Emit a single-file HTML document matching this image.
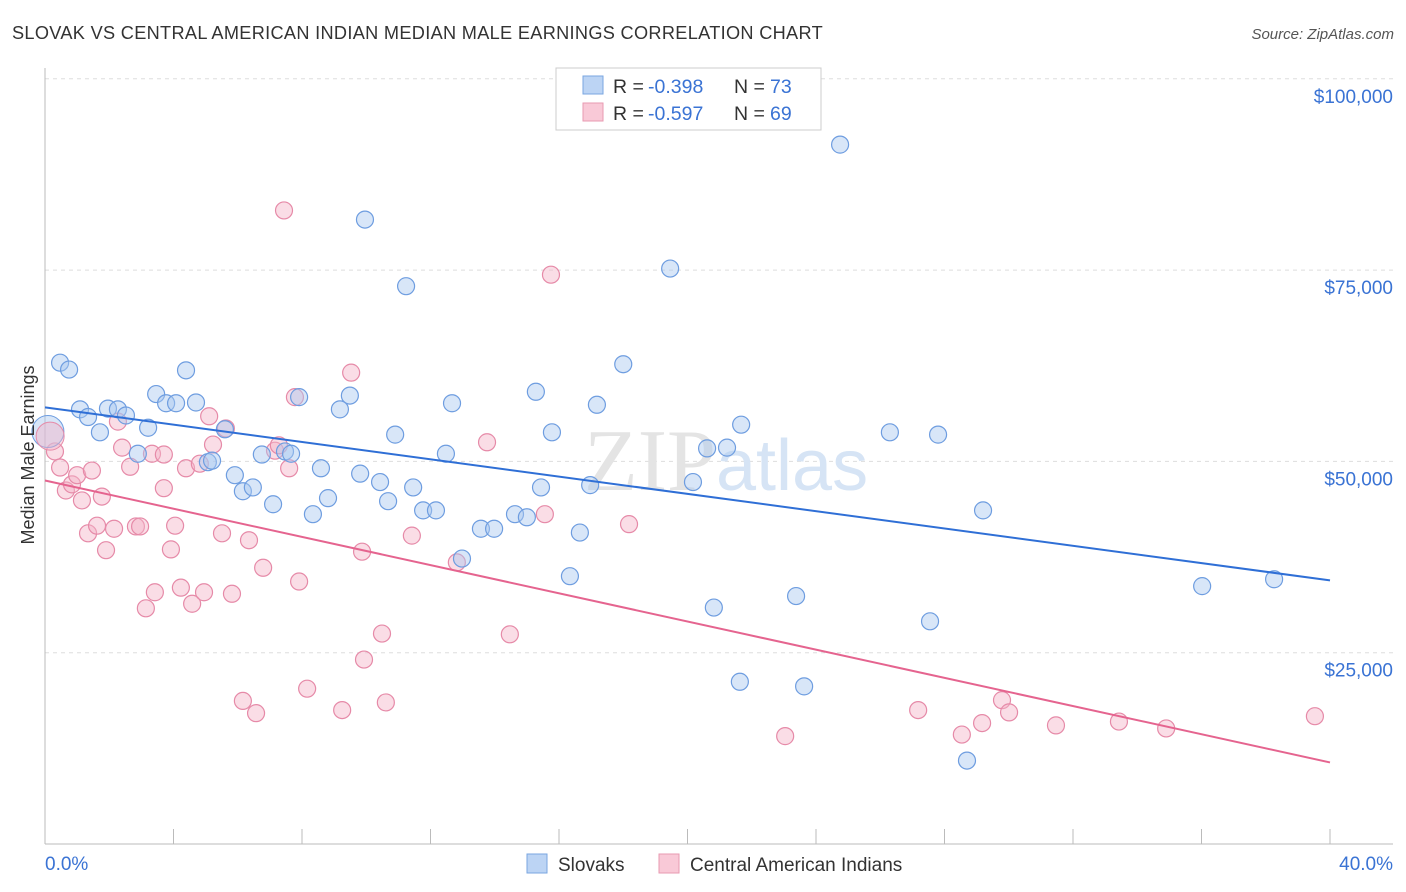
<!DOCTYPE html>
<html><head><meta charset="utf-8"><style>
body{margin:0;background:#fff;width:1406px;height:892px;overflow:hidden;font-family:"Liberation Sans",sans-serif}
svg{position:absolute;left:0;top:0}
</style></head><body>
<svg id="chart" width="1406" height="892">
<text x="12" y="39" font-size="18" letter-spacing="0.3" fill="#333" textLength="811" lengthAdjust="spacingAndGlyphs">SLOVAK VS CENTRAL AMERICAN INDIAN MEDIAN MALE EARNINGS CORRELATION CHART</text>
<text x="1394" y="39" font-size="15" fill="#555" font-style="italic" text-anchor="end">Source: ZipAtlas.com</text>
<g id="grid"></g>
<text x="716" y="490" font-size="88" font-family="Liberation Serif,serif" fill="#e4e4e4" text-anchor="end">ZIP</text>
<text x="716" y="490" font-size="72" fill="#d6e4f5">atlas</text>
<g id="marks"></g>
<text transform="translate(34,455) rotate(-90)" font-size="18" fill="#333" text-anchor="middle">Median Male Earnings</text>
<g>
<rect x="556" y="68" width="265" height="62" fill="#fff" stroke="#ccc"/>
<rect x="583" y="76" width="20" height="18" fill="#bcd4f4" stroke="#7aa6e0"/>
<rect x="583" y="103" width="20" height="18" fill="#f9c9d7" stroke="#e89ab2"/>
<g font-size="19.5" fill="#333">
<text x="613" y="93">R =</text><text x="648" y="93" fill="#3a73d4">-0.398</text><text x="734" y="93">N =</text><text x="770" y="93" fill="#3a73d4">73</text></g>
<g font-size="19.5" fill="#333">
<text x="613" y="120">R =</text><text x="648" y="120" fill="#3a73d4">-0.597</text><text x="734" y="120">N =</text><text x="770" y="120" fill="#3a73d4">69</text></g>
</g>
<g>
<rect x="527" y="854" width="20" height="19" fill="#bcd4f4" stroke="#7aa6e0"/>
<text x="558" y="871" font-size="19" fill="#333">Slovaks</text>
<rect x="659" y="854" width="20" height="19" fill="#f9c9d7" stroke="#e89ab2"/>
<text x="690" y="871" font-size="19" fill="#333">Central American Indians</text>
</g>
</svg>
<script>
const yTicks=[25000,50000,75000,100000];
const yTickLabels=["$25,000","$50,000","$75,000","$100,000"];
const xTicks=[4,8,12,16,20,24,28,32,36,40];
const xEndLabels=["0.0%","40.0%"];
const slovakX=[0.47,0.75,1.09,1.34,1.71,1.96,2.27,2.52,2.89,3.21,3.46,3.77,4.08,4.39,4.70,5.07,5.20,5.60,5.91,6.16,6.47,6.75,7.10,7.47,7.66,7.91,8.34,8.59,8.81,9.18,9.49,9.81,9.96,10.43,10.68,10.90,11.24,11.46,11.77,12.17,12.48,12.67,12.98,13.57,13.98,14.63,15.00,15.28,15.44,15.78,16.34,16.65,16.97,17.18,18.0,19.46,20.17,20.61,20.82,21.23,21.67,21.63,23.38,23.63,24.75,26.30,27.55,27.80,28.70,29.20,36.02,38.26];
const slovakY=[62.9,62.0,56.8,55.8,53.8,56.9,56.8,56.0,51.0,54.4,58.8,57.6,57.6,61.9,57.7,49.9,50.1,54.2,48.2,46.1,46.6,50.9,44.4,51.3,51.0,58.4,43.1,49.1,45.2,56.8,58.6,48.4,81.6,47.3,44.8,53.5,72.9,46.6,43.6,43.6,51.0,57.6,37.3,41.2,41.2,43.1,42.7,59.1,46.6,53.8,35.0,40.7,46.9,57.4,62.7,75.2,47.3,51.7,30.9,51.8,54.8,21.2,32.4,20.6,91.4,53.8,29.1,53.5,10.9,43.6,33.7,34.6];
const caiX=[0.31,0.47,0.65,0.84,1.0,1.15,1.34,1.46,1.62,1.77,1.90,2.15,2.27,2.40,2.65,2.83,2.96,3.14,3.33,3.42,3.70,3.70,3.92,4.05,4.23,4.39,4.58,4.82,4.95,5.11,5.23,5.51,5.63,5.82,6.16,6.35,6.57,6.79,7.16,7.28,7.44,7.60,7.78,7.91,8.16,9.25,9.53,9.87,9.93,10.49,10.61,11.42,12.82,13.76,14.47,15.56,15.75,18.18,23.04,27.18,28.54,29.17,29.79,30.01,31.47,33.43,34.90,39.53];
const caiY=[51.3,49.2,46.2,47.0,48.2,44.9,40.6,48.8,41.6,45.4,38.4,41.2,55.2,51.8,49.3,41.5,41.5,30.8,51.0,32.9,50.9,46.5,38.5,41.6,33.5,49.1,31.4,49.7,32.9,55.9,52.2,40.6,54.3,32.7,18.7,39.7,17.1,36.1,51.4,52.1,82.8,49.1,58.4,34.3,20.3,17.5,61.6,38.2,24.1,27.5,18.5,40.3,36.8,52.5,27.4,43.1,74.4,41.8,14.1,17.5,14.3,15.8,18.8,17.2,15.5,16.0,15.1,16.7];
const bigX=[0.09,0.16];const bigY=[53.9,53.3];
const slovakTrend=[57.06,34.45];const caiTrend=[47.5,10.66];
const NS="http://www.w3.org/2000/svg";
const X=v=>45+v*32.125;
const Y=k=>844-k*7.652;
function mk(t,p,a){const e=document.createElementNS(NS,t);for(const k in a)e.setAttribute(k,a[k]);p.appendChild(e);return e;}
const grid=document.getElementById('grid'),marks=document.getElementById('marks');
yTicks.forEach((v,i)=>{
 const g=mk('line',grid,{x1:45,x2:1393,y1:Y(v/1000),y2:Y(v/1000),stroke:'#ddd','stroke-dasharray':'4,4'});
 
 
 const t=mk('text',grid,{x:1393,y:Y(v/1000)+24,'font-size':19,fill:'#3a73d4','text-anchor':'end'});
 t.textContent=yTickLabels[i];
 
 
});
const ax=mk('line',grid,{x1:45,x2:1393,y1:844,y2:844,stroke:'#bbb'});


const ay=mk('line',grid,{x1:45,x2:45,y1:68,y2:844,stroke:'#bbb'});


xTicks.forEach(v=>{const l=mk('line',grid,{x1:X(v),x2:X(v),y1:829,y2:844,stroke:'#bbb'});
 
 });
const xl0=mk('text',grid,{x:45,y:870,'font-size':19,fill:'#3a73d4'});xl0.textContent=xEndLabels[0];


const xl1=mk('text',grid,{x:1393,y:870,'font-size':19,fill:'#3a73d4','text-anchor':'end'});xl1.textContent=xEndLabels[1];


function pts(xs,ys,fill,stroke,r,name){xs.forEach((x,i)=>{const c=mk('circle',marks,{cx:X(x),cy:Y(ys[i]),r:r,fill:fill,'fill-opacity':0.45,stroke:stroke,'stroke-width':1.2});
 
 });}
pts(caiX,caiY,'#f5b3c8','#e68aa8',8.5,'cai-point');
pts(slovakX,slovakY,'#a9c8f0','#6e9de0',8.5,'slovak-point');
const b1=mk('circle',marks,{cx:X(bigX[0]),cy:Y(bigY[0]),r:16,fill:'#a9c8f0','fill-opacity':0.45,stroke:'#6e9de0'});


const b2=mk('circle',marks,{cx:X(bigX[1]),cy:Y(bigY[1]),r:14,fill:'#f5b3c8','fill-opacity':0.45,stroke:'#e68aa8'});


const t1=mk('line',marks,{x1:X(0),x2:X(40),y1:Y(slovakTrend[0]),y2:Y(slovakTrend[1]),stroke:'#2f6fd6','stroke-width':2});


const t2=mk('line',marks,{x1:X(0),x2:X(40),y1:Y(caiTrend[0]),y2:Y(caiTrend[1]),stroke:'#e5648f','stroke-width':2});


</script>
</body></html>
